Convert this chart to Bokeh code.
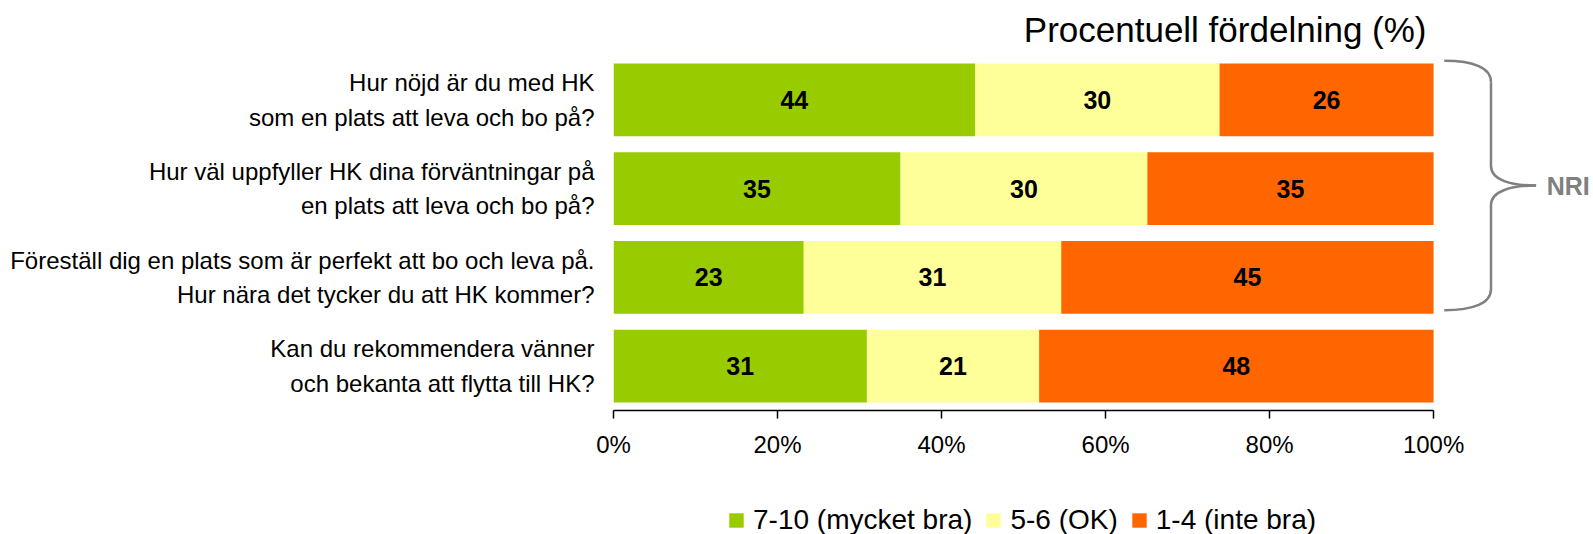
from bokeh.plotting import figure
from bokeh.layouts import column
from bokeh.models import (Range1d, Label, Legend, LegendItem, FixedTicker,
                          ColumnDataSource, Grid)
from bokeh.core.properties import value
from bokeh.embed import file_html
from bokeh.resources import INLINE

# ---------------- data ----------------
question_line1 = [
    "Hur nöjd är du med HK",
    "Hur väl uppfyller HK dina förväntningar på",
    "Föreställ dig en plats som är perfekt att bo och leva på.",
    "Kan du rekommendera vänner",
]
question_line2 = [
    "som en plats att leva och bo på?",
    "en plats att leva och bo på?",
    "Hur nära det tycker du att HK kommer?",
    "och bekanta att flytta till HK?",
]
series_names = ["7-10 (mycket bra)", "5-6 (OK)", "1-4 (inte bra)"]
good = [44.1, 35.0, 23.2, 30.9]   # 7-10
ok = [29.8, 30.1, 31.4, 21.0]     # 5-6
bad = [26.1, 34.9, 45.4, 48.1]    # 1-4
x_ticks = [0, 20, 40, 60, 80, 100]
x_tick_labels = ["0%", "20%", "40%", "60%", "80%", "100%"]
title_text = "Procentuell fördelning (%)"
brace_label = "NRI"
brace_rows = [0, 2]  # questions covered by the brace (first..last)

colors = ["#99CC00", "#FFFF99", "#FF6600"]
FONT = "Liberation Sans"

n = len(question_line1)
ys = [n - i - 0.5 for i in range(n)]
BAR_H = 0.82
LINE_OFF = 0.195  # half line spacing of the two-line question labels, in category units

p = figure(width=1593, height=490, output_backend="svg", toolbar_location=None,
           x_range=Range1d(0, 119.5), y_range=Range1d(0, n),
           min_border_left=613, min_border_right=0,
           min_border_top=55, min_border_bottom=80)
p.outline_line_color = None
p.center = [r for r in p.center if not isinstance(r, Grid)]
p.background_fill_color = "white"
p.border_fill_color = "white"

# title (above panel, right aligned near the 100 % mark)
p.title.text = title_text
p.title.align = "right"
p.title.text_font = FONT
p.title.text_font_size = "35px"
p.title.text_font_style = "normal"
p.title.text_color = "black"
p.title.offset = 167
p.title.standoff = 13

# stacked bars
sources = []
left = [0.0] * n
for name, vals, col in zip(series_names, [good, ok, bad], colors):
    right = [l + v for l, v in zip(left, vals)]
    src = ColumnDataSource(dict(
        y=ys, left=left, right=right,
        xc=[(l + r) / 2 for l, r in zip(left, right)],
        lbl=[str(int(round(v))) for v in vals],
    ))
    sources.append(src)
    p.hbar(y="y", left="left", right="right", height=BAR_H, source=src,
           fill_color=col, line_color=None)
    p.text(x="xc", y="y", text="lbl", source=src, text_align="center",
           text_baseline="middle", text_font=value(FONT), text_font_style="bold",
           text_font_size="25px", text_color="black")
    left = right

# x axis
ax = p.xaxis[0]
ax.ticker = FixedTicker(ticks=x_ticks)
ax.major_label_overrides = {t: s for t, s in zip(x_ticks, x_tick_labels)}
ax.bounds = (0, 100)
ax.axis_line_color = "black"
ax.axis_line_width = 1.5
ax.major_tick_line_color = "black"
ax.major_tick_line_width = 1.5
ax.major_tick_in = 0
ax.major_tick_out = 8
ax.minor_tick_line_color = None
ax.major_label_text_font = FONT
ax.major_label_text_font_size = "24px"
ax.major_label_text_color = "black"
ax.major_label_standoff = 12

# y axis: two-line question labels as tick labels
yax = p.yaxis[0]
tick_pos, tick_txt = [], []
for y, l1, l2 in zip(ys, question_line1, question_line2):
    tick_pos += [y + LINE_OFF, y - LINE_OFF]
    tick_txt += [l1, l2]
yax.ticker = FixedTicker(ticks=tick_pos)
yax.major_label_overrides = {t: s for t, s in zip(tick_pos, tick_txt)}
yax.axis_line_color = None
yax.major_tick_line_color = None
yax.minor_tick_line_color = None
yax.major_tick_in = 0
yax.major_tick_out = 0
yax.major_label_standoff = 19
yax.major_label_text_font = FONT
yax.major_label_text_font_size = "24px"
yax.major_label_text_color = "black"

# brace
top = ys[brace_rows[0]] + BAR_H / 2 + 0.03
bot = ys[brace_rows[1]] - BAR_H / 2 + 0.04
mid = (top + bot) / 2
x0, xv, xt = 101.3, 107.0, 112.5
BC = "#808080"
BW = 2.5
p.bezier(x0=[x0], y0=[top], x1=[xv], y1=[top - 0.24],
         cx0=[104.9], cy0=[top], cx1=[xv], cy1=[top - 0.08], line_color=BC, line_width=BW)
p.segment(x0=[xv], y0=[top - 0.24], x1=[xv], y1=[mid + 0.22], line_color=BC, line_width=BW)
p.bezier(x0=[xv], y0=[mid + 0.22], x1=[xt], y1=[mid],
         cx0=[xv], cy0=[mid + 0.06], cx1=[109.5], cy1=[mid], line_color=BC, line_width=BW)
p.bezier(x0=[xt], y0=[mid], x1=[xv], y1=[mid - 0.22],
         cx0=[109.5], cy0=[mid], cx1=[xv], cy1=[mid - 0.06], line_color=BC, line_width=BW)
p.segment(x0=[xv], y0=[mid - 0.22], x1=[xv], y1=[bot + 0.24], line_color=BC, line_width=BW)
p.bezier(x0=[xv], y0=[bot + 0.24], x1=[x0], y1=[bot],
         cx0=[xv], cy0=[bot + 0.08], cx1=[104.9], cy1=[bot], line_color=BC, line_width=BW)
p.add_layout(Label(x=113.8, y=mid, text=brace_label, text_align="left",
                   text_baseline="middle", text_font=FONT, text_font_style="bold",
                   text_font_size="25px", text_color=BC))

# legend strip (separate figure below the chart; its frame aligns with the chart's frame)
pl = figure(width=1593, height=44, output_backend="svg", toolbar_location=None,
            x_range=Range1d(0, 1), y_range=Range1d(0, 1),
            x_axis_location=None, y_axis_location=None,
            min_border_left=0, min_border_right=0, min_border_top=0, min_border_bottom=0)
pl.outline_line_color = None
pl.center = [r for r in pl.center if not isinstance(r, Grid)]
pl.background_fill_color = "white"
pl.border_fill_color = "white"
leg_renderers = []
for src, col in zip(sources, colors):
    leg_renderers.append(pl.hbar(y="y", left="left", right="right", height=BAR_H, source=src,
                                 fill_color=col, line_color=None, visible=False))
legend = Legend(items=[LegendItem(label=nm, renderers=[r]) for nm, r in zip(series_names, leg_renderers)],
                orientation="horizontal", location=(114, -2),
                glyph_width=18, glyph_height=18, label_standoff=8, spacing=12,
                padding=0, margin=0, border_line_color=None, background_fill_alpha=0,
                inactive_fill_alpha=0,
                label_text_font=FONT, label_text_font_size="28px", label_text_color="black")
pl.add_layout(legend)

layout = column(p, pl, spacing=0)
open("out.html", "w").write(file_html(layout, INLINE))
